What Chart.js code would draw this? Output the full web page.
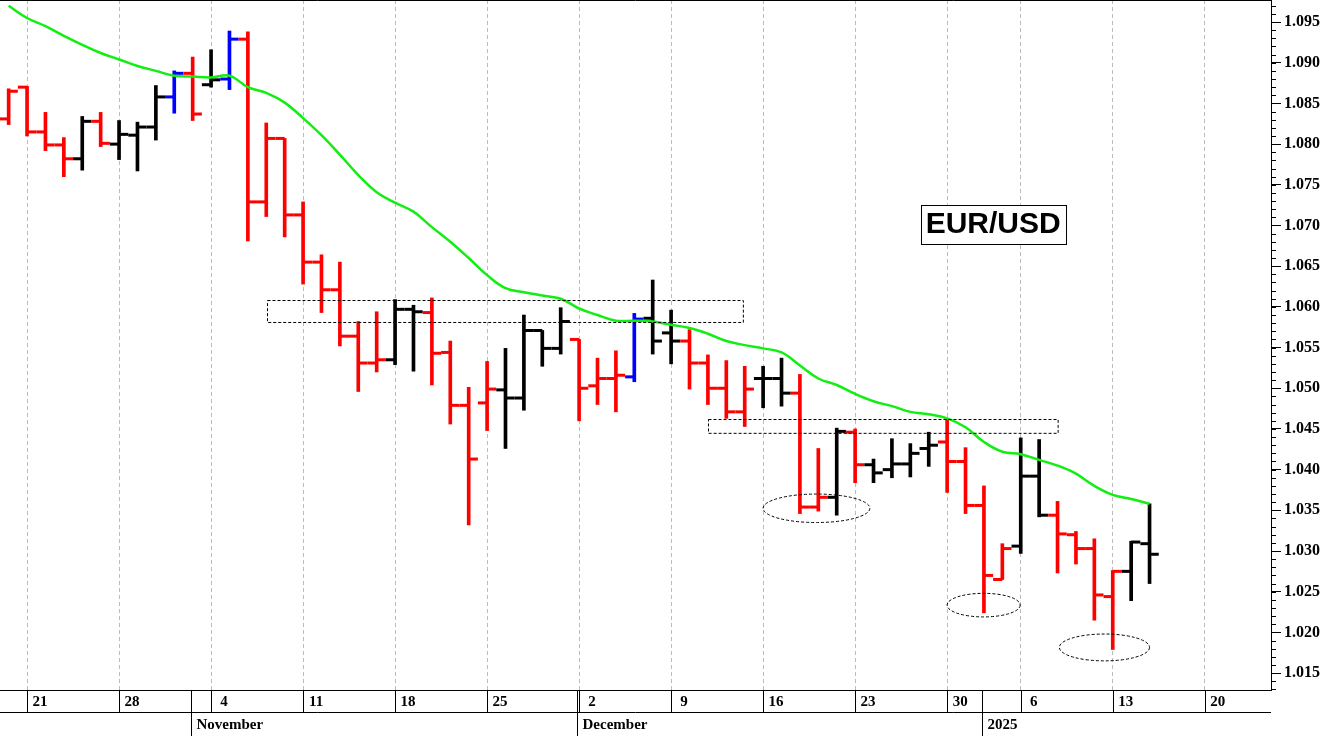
<!DOCTYPE html>
<html>
<head>
<meta charset="utf-8">
<script src="https://cdn.jsdelivr.net/npm/chart.js@4"></script>
<style>
  html, body { margin: 0; padding: 0; background: #fff; }
  #wrap { width: 1342px; height: 736px; }
</style>
</head>
<body>
<div id="wrap"><canvas id="myChart"></canvas></div>
<script>
// Trading days, 18 Oct 2024 .. 15 Jan 2025 (index = position on x axis)
const dates = ['Oct 18','Oct 21','Oct 22','Oct 23','Oct 24','Oct 25','Oct 28','Oct 29','Oct 30','Oct 31',
  'Nov 1','Nov 4','Nov 5','Nov 6','Nov 7','Nov 8','Nov 11','Nov 12','Nov 13','Nov 14','Nov 15',
  'Nov 18','Nov 19','Nov 20','Nov 21','Nov 22','Nov 25','Nov 26','Nov 27','Nov 28','Nov 29',
  'Dec 2','Dec 3','Dec 4','Dec 5','Dec 6','Dec 9','Dec 10','Dec 11','Dec 12','Dec 13',
  'Dec 16','Dec 17','Dec 18','Dec 19','Dec 20','Dec 23','Dec 24','Dec 25','Dec 26','Dec 27',
  'Dec 30','Dec 31','Jan 2','Jan 3','Jan 6','Jan 7','Jan 8','Jan 9','Jan 10','Jan 13','Jan 14','Jan 15'];

const opens = [1.0831,1.0870,1.0815,1.0799,1.0782,1.0828,1.0800,1.0811,1.0821,1.0858,
  1.0887,1.0873,1.0880,1.0929,1.0729,1.0807,1.0713,1.0655,1.0621,1.0564,1.0531,
  1.0535,1.0597,1.0593,1.0544,1.0479,1.0482,1.0498,1.0488,1.0571,1.0549,
  1.0560,1.0503,1.0512,1.0514,1.0586,1.0568,1.0558,1.0531,1.0500,1.0471,
  1.0512,1.0512,1.0494,1.0354,1.0366,1.0446,1.0406,1.0400,1.0407,1.0426,
  1.0434,1.0410,1.0356,1.0265,1.0306,1.0392,1.0344,1.0320,1.0303,1.0244,1.0275,1.0309];
const highs = [1.0868,1.0871,1.0839,1.0808,1.0834,1.0839,1.0829,1.0827,1.0872,1.0890,
  1.0907,1.0916,1.0939,1.0938,1.0826,1.0807,1.0729,1.0664,1.0655,1.0582,1.0594,
  1.0609,1.0602,1.0611,1.0558,1.0501,1.0533,1.0549,1.0590,1.0571,1.0599,
  1.0560,1.0537,1.0546,1.0592,1.0633,1.0596,1.0572,1.0541,1.0534,1.0527,
  1.0527,1.0537,1.0517,1.0426,1.0451,1.0450,1.0413,1.0438,1.0432,1.0446,
  1.0462,1.0427,1.0380,1.0309,1.0439,1.0437,1.0361,1.0324,1.0315,1.0276,1.0312,1.0358];
const lows = [1.0824,1.0810,1.0792,1.0760,1.0768,1.0797,1.0781,1.0767,1.0805,1.0838,
  1.0829,1.0870,1.0867,1.0681,1.0711,1.0686,1.0628,1.0593,1.0552,1.0496,1.0520,
  1.0529,1.0521,1.0504,1.0456,1.0332,1.0448,1.0426,1.0473,1.0527,1.0542,
  1.0460,1.0480,1.0471,1.0508,1.0542,1.0530,1.0499,1.0480,1.0463,1.0453,
  1.0476,1.0478,1.0346,1.0349,1.0344,1.0384,1.0384,1.0390,1.0391,1.0404,
  1.0372,1.0346,1.0224,1.0265,1.0297,1.0342,1.0273,1.0284,1.0215,1.0179,1.0239,1.0260];
const closes = [1.0865,1.0815,1.0799,1.0782,1.0828,1.0801,1.0812,1.0821,1.0858,1.0887,
  1.0837,1.0879,1.0929,1.0729,1.0807,1.0713,1.0655,1.0621,1.0564,1.0531,1.0535,
  1.0597,1.0594,1.0543,1.0479,1.0413,1.0499,1.0488,1.0571,1.0549,1.0582,
  1.0500,1.0512,1.0516,1.0585,1.0558,1.0558,1.0531,1.0500,1.0471,1.0499,
  1.0512,1.0494,1.0354,1.0366,1.0447,1.0406,1.0396,1.0407,1.0420,1.0430,
  1.0410,1.0356,1.0270,1.0303,1.0392,1.0344,1.0321,1.0303,1.0246,1.0275,1.0311,1.0296];
// bar colour code per day: r = red, k = black, b = blue
const barColours = 'rrrrkrkkkbrkbrrrrrrrrkkrrrrkkkkrrrbkkrrrrkkrrkrkkkkrrrrkkrrrrkk'.split('');
// moving average line
const movingAvg = [1.0970,1.0955,1.0945,1.0933,1.0922,1.0912,1.0904,1.0896,1.0890,1.0884,
  1.0883,1.0882,1.0884,1.0870,1.0863,1.0851,1.0832,1.0811,1.0787,1.0762,1.0741,
  1.0728,1.0717,1.0698,1.0680,1.0660,1.0639,1.0623,1.0618,1.0614,1.0610,
  1.0598,1.0590,1.0583,1.0583,1.0582,1.0578,1.0574,1.0567,1.0558,1.0553,
  1.0549,1.0544,1.0528,1.0512,1.0504,1.0493,1.0484,1.0478,1.0471,1.0468,
  1.0463,1.0452,1.0434,1.0422,1.0419,1.0412,1.0405,1.0395,1.0380,1.0369,1.0364,1.0358];

// weekly ticks (index -> day label) and month labels (index -> text)
const weekTicks = [1,6,11,16,21,26,31,36,41,46,51,55,60,65];
const weekLabels = ['21','28','4','11','18','25','2','9','16','23','30','6','13','20'];
const monthTicks = [10,31,53];
const monthLabels = ['November','December','2025'];
const priceTicks = [1.015,1.020,1.025,1.030,1.035,1.040,1.045,1.050,1.055,1.060,1.065,1.070,1.075,1.080,1.085,1.090,1.095];

// annotations in data units (x = day index, y = price)
const boxes = [[14.04,39.9,1.0581,1.0608],[38.0,57.0,1.0445,1.0462]];
const ellipses = [[41.0,46.8,1.0335,1.0370],[51.0,54.97,1.0219,1.0248],[57.1,62.0,1.0165,1.0198]];
const pairLabel = {x: 53.5, y: 1.0702, text: 'EUR/USD'};

const colourMap = {r: '#ff0000', k: '#000000', b: '#0000ff'};
const cols = barColours.map(c => colourMap[c]);
const idx = dates.map((d, i) => i);

const extras = {
  id: 'extras',
  afterDraw(chart) {
    const {ctx, chartArea: a, scales: {x, y}} = chart;
    ctx.save();
    // frame
    ctx.strokeStyle = '#000'; ctx.lineWidth = 1; ctx.setLineDash([]);
    ctx.beginPath(); ctx.moveTo(a.left, a.top + 0.5); ctx.lineTo(a.right, a.top + 0.5); ctx.stroke();
    // minor ticks on price axis
    for (let v = 1.013; v <= 1.0975; v += 0.001) {
      const py = Math.round(y.getPixelForValue(v)) + 0.5;
      ctx.beginPath(); ctx.moveTo(a.right, py); ctx.lineTo(a.right + 5, py); ctx.stroke();
    }
    // separators under x axis
    const row = a.bottom + 22;
    weekTicks.forEach(t => {
      const px = Math.round(x.getPixelForValue(t)) + 0.5;
      ctx.beginPath(); ctx.moveTo(px, a.bottom); ctx.lineTo(px, row); ctx.stroke();
    });
    ctx.beginPath(); ctx.moveTo(0, row + 0.5); ctx.lineTo(a.right, row + 0.5); ctx.stroke();
    ctx.font = 'bold 15px "Liberation Serif"'; ctx.fillStyle = '#000'; ctx.textBaseline = 'middle';
    monthTicks.forEach((t, i) => {
      const px = Math.round(x.getPixelForValue(t)) + 0.5 - 2;
      ctx.beginPath(); ctx.moveTo(px, a.bottom); ctx.lineTo(px, 736); ctx.stroke();
      ctx.fillText(monthLabels[i], px + 5, row + 13);
    });
    // dashed boxes and ellipses
    ctx.save();
    ctx.beginPath(); ctx.rect(a.left, a.top, a.right - a.left, a.bottom - a.top); ctx.clip();
    ctx.setLineDash([3, 2]); ctx.lineWidth = 1;
    boxes.forEach(b => {
      const x1 = x.getPixelForValue(b[0]), x2 = x.getPixelForValue(b[1]);
      const y1 = y.getPixelForValue(b[3]), y2 = y.getPixelForValue(b[2]);
      ctx.strokeRect(Math.round(x1) + 0.5, Math.round(y1) + 0.5, x2 - x1, y2 - y1);
    });
    ellipses.forEach(e => {
      const x1 = x.getPixelForValue(e[0]), x2 = x.getPixelForValue(e[1]);
      const y1 = y.getPixelForValue(e[3]), y2 = y.getPixelForValue(e[2]);
      ctx.beginPath();
      ctx.ellipse((x1 + x2) / 2, (y1 + y2) / 2, (x2 - x1) / 2, (y2 - y1) / 2, 0, 0, Math.PI * 2);
      ctx.stroke();
    });
    ctx.restore();
    // pair label
    ctx.setLineDash([]);
    ctx.font = 'bold 30px "Liberation Sans"';
    const lx = x.getPixelForValue(pairLabel.x), ly = y.getPixelForValue(pairLabel.y);
    const w = ctx.measureText(pairLabel.text).width + 10;
    ctx.fillStyle = '#fff'; ctx.fillRect(lx - w / 2, ly - 19, w, 39);
    ctx.strokeStyle = '#000'; ctx.strokeRect(Math.round(lx - w / 2) + 0.5, Math.round(ly - 19) + 0.5, w, 39);
    ctx.fillStyle = '#000'; ctx.textAlign = 'center';
    ctx.fillText(pairLabel.text, lx, ly + 1);
    ctx.restore();
  }
};

const data = {
  datasets: [
    {
      type: 'line', label: 'MA', data: idx.map(i => ({x: i, y: movingAvg[i]})),
      borderColor: '#11ee11', borderWidth: 2.5, pointRadius: 0, tension: 0.4, order: 0
    },
    {
      type: 'bar', label: 'Range', data: idx.map(i => ({x: i, y: [lows[i], highs[i]]})),
      backgroundColor: cols, barThickness: 3, grouped: false, order: 1
    },
    {
      type: 'scatter', label: 'Open', data: idx.map(i => ({x: i - 0.25, y: opens[i]})),
      pointStyle: 'line', pointRadius: 4.6, pointBorderWidth: 3, borderColor: cols, order: 1
    },
    {
      type: 'scatter', label: 'Close', data: idx.map(i => ({x: i + 0.25, y: closes[i]})),
      pointStyle: 'line', pointRadius: 4.6, pointBorderWidth: 3, borderColor: cols, order: 1
    }
  ]
};

const config = {
  data: data,
  options: {
    responsive: true, maintainAspectRatio: false, animation: false, events: [],
    layout: {padding: 0, autoPadding: false},
    plugins: {legend: {display: false}, tooltip: {enabled: false}},
    scales: {
      x: {
        type: 'linear', min: -0.47, max: 68.6, offset: false,
        afterBuildTicks: s => { s.ticks = weekTicks.map(v => ({value: v})); },
        afterFit: s => { s.height = 46; s.paddingLeft = 0; s.paddingRight = 0; },
        grid: {color: '#bbbbbb', drawTicks: false, offset: false},
        border: {color: '#000', dash: [4, 3]},
        ticks: {
          callback: (v, i) => weekLabels[i], padding: 3, labelOffset: 13, maxRotation: 0, autoSkip: false,
          color: '#000', font: {family: '"Liberation Serif"', weight: 'bold', size: 15}
        }
      },
      y: {
        position: 'right', min: 1.01292, max: 1.09771,
        afterBuildTicks: s => { s.ticks = priceTicks.map(v => ({value: v})); },
        afterFit: s => { s.width = 71; s.paddingTop = 0; s.paddingBottom = 0; },
        grid: {drawOnChartArea: false, tickLength: 10, tickColor: '#000'},
        border: {color: '#000'},
        ticks: {
          callback: v => v.toFixed(3), padding: 3, color: '#000',
          font: {family: '"Liberation Serif"', weight: 'bold', size: 16}
        }
      }
    }
  },
  plugins: [extras]
};

const ctx = document.getElementById('myChart').getContext('2d');
const myChart = new Chart(ctx, config);
</script>
</body>
</html>
